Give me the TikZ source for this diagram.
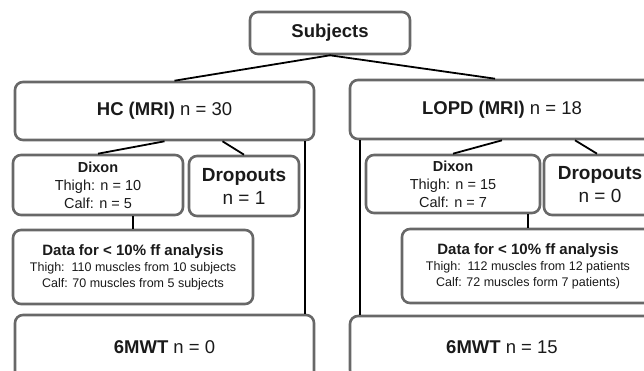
\documentclass[tikz,border=0pt]{standalone}
\usepackage{fontspec}
\setmainfont{Liberation Sans}
\usetikzlibrary{positioning}
\definecolor{boxline}{HTML}{686868}
\definecolor{ink}{HTML}{1A1A1A}
\newcommand{\fs}[2]{\fontsize{#1}{#2}\selectfont}
\begin{document}
\begin{tikzpicture}[x=1pt,y=-1pt,
  box/.style={draw=boxline,line width=2.6pt,rounded corners=8pt,rectangle,
    align=center,text=ink,inner sep=0pt},
  link/.style={draw=black,line width=1.8pt}]
\useasboundingbox (0,0) rectangle (644,371);
\clip (0,0) rectangle (644,371);
\node[box,minimum width=160pt,minimum height=42pt,font=\fs{18.5}{22}\bfseries] (subj) at (330,33) {Subjects};
\node[box,minimum width=299pt,minimum height=58pt,font=\fs{18.5}{22}] (hc) at (164.5,111) {\textbf{HC (MRI)} n = 30};
\node[box,minimum width=304pt,minimum height=59pt,font=\fs{18.5}{22}] (lopd) at (502,109.5) {\textbf{LOPD (MRI)} n = 18};
\node[box,minimum width=170pt,minimum height=60pt,font=\fs{14.5}{18}] (dixL) at (98,185) {\textbf{Dixon}\\Thigh: n = 10\\Calf: n = 5};
\node[box,minimum width=110pt,minimum height=60pt,font=\fs{19}{23}] (dropL) at (244,186) {\textbf{Dropouts}\\n = 1};
\node[box,minimum width=240pt,minimum height=74pt,font=\fs{12.5}{16}] (dataL) at (133,267) {{\fs{15}{16}\bfseries Data for < 10\% ff analysis}\\Thigh:\ \ 110 muscles from 10 subjects\\Calf: 70 muscles from 5 subjects};
\node[box,minimum width=299pt,minimum height=64pt,font=\fs{18.5}{22}] (mwtL) at (164.5,347) {\textbf{6MWT} n = 0};
\node[box,minimum width=174pt,minimum height=58pt,font=\fs{14.5}{18}] (dixR) at (453,184) {\textbf{Dixon}\\Thigh: n = 15\\Calf: n = 7};
\node[box,minimum width=112pt,minimum height=60pt,font=\fs{19}{23}] (dropR) at (600,185) {\textbf{Dropouts}\\n = 0};
\node[box,minimum width=252pt,minimum height=74pt,font=\fs{12.5}{16}] (dataR) at (528,266) {{\fs{15}{16}\bfseries Data for < 10\% ff analysis}\\Thigh:\ \ 112 muscles from 12 patients\\Calf: 72 muscles form 7 patients)};
\node[box,minimum width=304pt,minimum height=62pt,font=\fs{18.5}{22}] (mwtR) at (502,347) {\textbf{6MWT} n = 15};
\coordinate (vl) at (305,0);
\coordinate (vr) at (360,0);
\draw[link] (subj.south) -- ([xshift=10pt]hc.north);
\draw[link] (subj.south) -- ([xshift=-7pt]lopd.north);
\draw[link] (hc.south) -- (dixL.north);
\draw[link] ([xshift=58pt]hc.south) -- (dropL.north);
\draw[link] (hc.south -| vl) -- (mwtL.north -| vl);
\draw[link] (dataL.north |- dixL.south) -- (dataL.north);
\draw[link] (lopd.south) -- (dixR.north);
\draw[link] ([xshift=73pt]lopd.south) -- ([xshift=-3pt]dropR.north);
\draw[link] (lopd.south -| vr) -- (mwtR.north -| vr);
\draw[link] (dataR.north |- dixR.south) -- (dataR.north);
\end{tikzpicture}
\end{document}
